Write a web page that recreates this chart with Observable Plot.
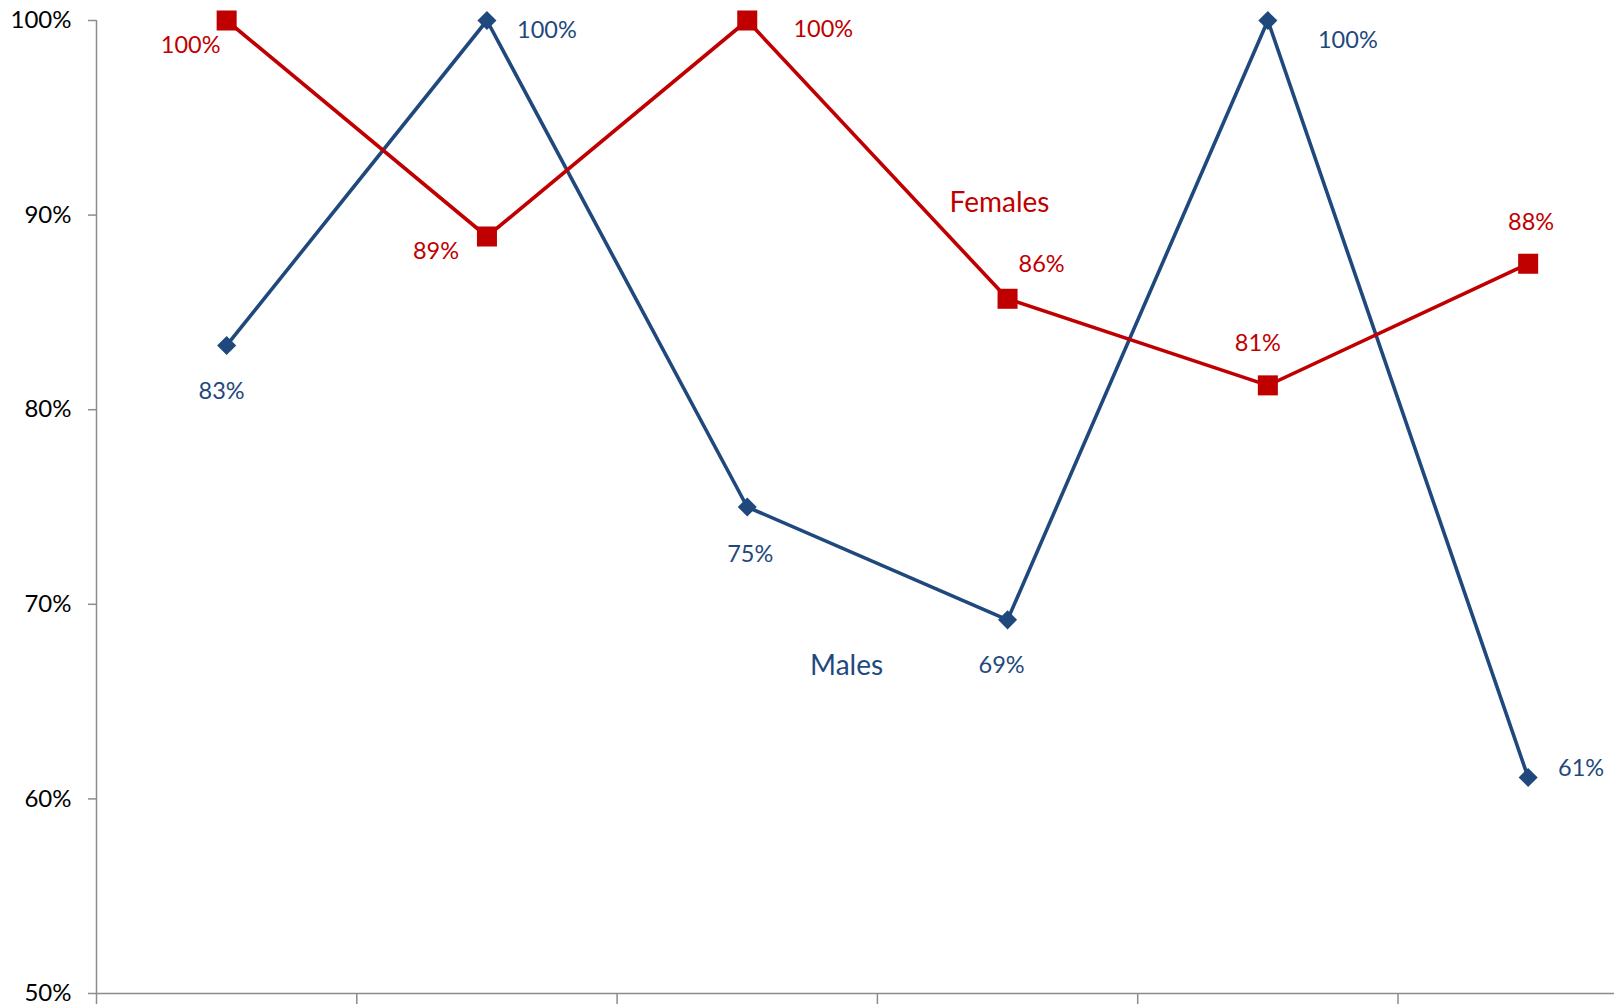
<!DOCTYPE html>
<html>
<head>
<meta charset="utf-8">
<script src="https://cdn.jsdelivr.net/npm/d3@7"></script>
<script src="https://cdn.jsdelivr.net/npm/@observablehq/plot@0.6"></script>
<style>
  html, body { margin: 0; padding: 0; background: #fff; }
  #chart svg { display: block; }
</style>
</head>
<body>
<div id="chart"></div>
<script>
// Six groups along the x axis (unlabelled), one value per group for each series.
const groups = [1, 2, 3, 4, 5, 6];
const males = [0.833, 1.0, 0.75, 0.692, 1.0, 0.611];
const females = [1.0, 0.889, 1.0, 0.857, 0.8125, 0.875];
const yTicks = [0.5, 0.6, 0.7, 0.8, 0.9, 1.0];

const BLUE = "#1F497D";
const RED = "#C00000";
const AXIS = "#8c8c8c";
const FONT = "Lato, 'Open Sans', sans-serif";

// Label offsets (px) for each point's value label
const maleLabelOffset = [[-5, 46], [60, 10], [3, 47], [-6, 46], [80, 20], [53, -9]];
const femaleLabelOffset = [[-36, 25], [-51, 15], [76, 9], [34, -34], [-10, -42], [3, -41]];

const rows = [];
groups.forEach((g, i) => {
  rows.push({series: "Males", pos: i + 0.5, value: males[i], off: maleLabelOffset[i]});
  rows.push({series: "Females", pos: i + 0.5, value: females[i], off: femaleLabelOffset[i]});
});
const maleRows = rows.filter(d => d.series === "Males");
const femaleRows = rows.filter(d => d.series === "Females");
const pct = v => Math.round(v * 100) + "%";

const valueLabels = rows.map(d => Plot.text([d], {
  x: "pos", y: "value", text: r => pct(r.value),
  dx: d.off[0], dy: d.off[1],
  fill: d.series === "Males" ? BLUE : RED,
  fontSize: 23.5, fontFamily: FONT
}));

const chart = Plot.plot({
  width: 1614,
  height: 1004,
  marginTop: 20,
  marginBottom: 11,
  marginLeft: 96,
  marginRight: 0,
  style: {background: "#fff", overflow: "visible"},
  x: {type: "linear", domain: [0, groups.length], range: [96, 96 + 6 * 260.3]},
  y: {domain: [0.5, 1.0], range: [993, 20]},
  marks: [
    // y axis with tick labels
    Plot.axisY({
      ticks: yTicks, tickSize: 8, tickPadding: 17,
      tickFormat: d => Math.round(d * 100) + "%",
      stroke: AXIS, strokeWidth: 1.5, fill: "#000",
      fontSize: 24, fontFamily: FONT, label: null
    }),
    // x axis tick marks between groups, hanging below the baseline
    Plot.axisX({
      ticks: d3.range(0, groups.length + 1), tickSize: 14, tickFormat: () => "",
      stroke: AXIS, strokeWidth: 1.5, label: null
    }),
    Plot.ruleX([0], {y1: 0.5, y2: 1.0, stroke: AXIS, strokeWidth: 1.5}),
    Plot.ruleY([0.5], {x1: 0, x2: groups.length, stroke: AXIS, strokeWidth: 1.5}),

    // series lines
    Plot.line(maleRows, {x: "pos", y: "value", stroke: BLUE, strokeWidth: 3.6}),
    Plot.line(femaleRows, {x: "pos", y: "value", stroke: RED, strokeWidth: 3.6}),

    // markers
    Plot.dot(maleRows, {x: "pos", y: "value", symbol: "square", rotate: 45, r: 7.6, fill: BLUE}),
    Plot.dot(femaleRows, {x: "pos", y: "value", symbol: "square", r: 11.3, fill: RED}),

    ...valueLabels,

    // series names
    Plot.text([femaleRows[3]], {x: "pos", y: "value", text: () => "Females", dx: -8, dy: -96,
      fill: RED, fontSize: 28, fontFamily: FONT}),
    Plot.text([maleRows[3]], {x: "pos", y: "value", text: () => "Males", dx: -161, dy: 46,
      fill: BLUE, fontSize: 28, fontFamily: FONT})
  ]
});

document.getElementById("chart").appendChild(chart);
</script>
</body>
</html>
